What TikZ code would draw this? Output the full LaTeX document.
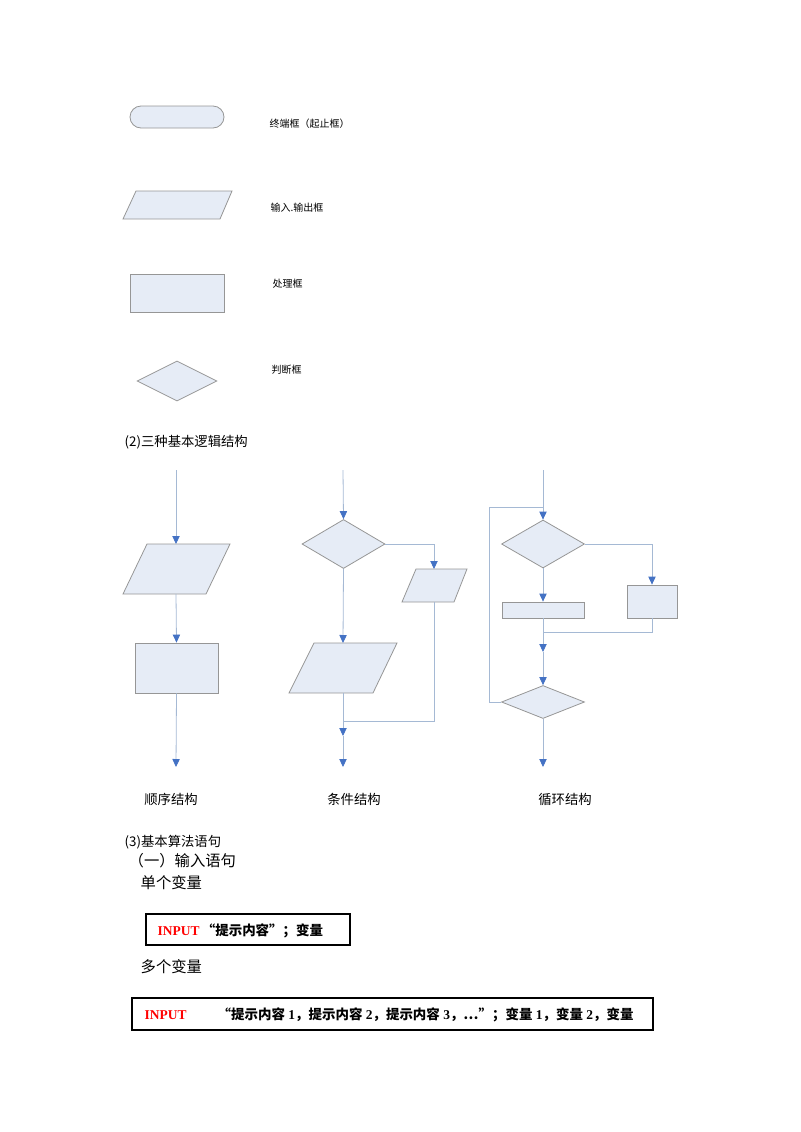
\documentclass[tikz,border=0pt]{standalone}
\usepackage{fontspec}
\setmainfont{Noto Sans CJK SC}
\newfontfamily\lat{Liberation Serif}
\usetikzlibrary{shapes.geometric,arrows.meta}
\definecolor{fillc}{RGB}{230,236,246}
\definecolor{edgec}{RGB}{150,150,150}
\definecolor{linec}{RGB}{165,185,212}
\definecolor{arrc}{RGB}{68,114,196}
\def\px{*0.75pt}
\begin{document}
\begin{tikzpicture}[x=0.75pt,y=-0.75pt,
  shp/.style={draw=edgec,fill=fillc,line width=0.6pt},
  rectshp/.style={shp,rectangle,inner sep=0pt},
  dia/.style={shp,diamond,inner sep=0pt},
  conn/.style={draw=linec,line width=0.6pt},
  arr/.style={conn,-{Triangle[length=6pt,width=5.5pt,color=arrc]}},
  small/.style={anchor=west,font=\fontsize{7.5}{9}\selectfont},
  mid/.style={font=\fontsize{10}{12}\selectfont},
  big/.style={anchor=west,font=\fontsize{11.5}{14}\selectfont},
  codebox/.style={draw=black,line width=1.1pt,rectangle,inner sep=0pt},
  codetxt/.style={anchor=west,font=\fontsize{10.1}{12}\selectfont\bfseries}]
\path[use as bounding box] (0,0) rectangle (800,1132);

% ---------- legend ----------
\node[shp,rectangle,rounded corners=11\px,minimum width=94\px,minimum height=22\px] (term) at (177,117) {};
\node[small] (termt) at (265,124) {终端框（起止框）};
\path[shp] (136,191) -- (232,191) -- (220,219) -- (123,219) -- cycle;
\node[small] (iot) at (266,208) {输入.输出框};
\node[rectshp,minimum width=94\px,minimum height=38\px] (proc) at (177,293) {};
\node[small] (proct) at (268,284) {处理框};
\node[dia,minimum width=80\px,minimum height=40\px] (decl) at (177,381) {};
\node[small] (declt) at (267,370) {判断框};

\node[anchor=west,mid] (t2) at (120,442) {(2)三种基本逻辑结构};

% ---------- sequence ----------
\coordinate (s0) at (176,470);
\path[shp] (147,544) -- (230,544) -- (206,594) -- (123,594) -- cycle;
\coordinate (sp1t) at (176,544);
\coordinate (sp1b) at (176,594);
\node[rectshp,minimum width=83\px,minimum height=50\px] (srect) at (176.5,668) {};
\coordinate (send) at (176,767);
\draw[arr] (s0) -- (sp1t);
\draw[arr] (sp1b) -- (srect.north);
\draw[arr] (srect.south) -- (send);

% ---------- condition ----------
\coordinate (c0) at (343,470);
\node[dia,minimum width=83\px,minimum height=49\px] (cd) at (343.5,544) {};
\path[shp] (416,569) -- (467,569) -- (454,602) -- (402,602) -- cycle;
\coordinate (cp2t) at (434,569);
\coordinate (cp2b) at (434,602);
\path[shp] (314,643) -- (397,643) -- (373,693) -- (289,693) -- cycle;
\coordinate (cp3t) at (343,643);
\coordinate (cp3b) at (343,693);
\coordinate (cj) at (343,721);
\coordinate (cm) at (343,736);
\coordinate (cend) at (343,767);
\draw[arr] (c0) -- (cd.north);
\draw[arr] (cd.east) -| (cp2t);
\draw[conn] (cp2b) |- (cj);
\draw[arr] (cd.south) -- (cp3t);
\draw[arr] (cp3b) -- (cm);
\draw[arr] (cm) -- (cend);

% ---------- loop ----------
\coordinate (l0) at (543,470);
\coordinate (lj) at (543,507);
\coordinate (lback) at (489,507);
\node[dia,minimum width=83\px,minimum height=48\px] (ld1) at (543,544) {};
\node[rectshp,minimum width=82\px,minimum height=16\px] (lw) at (543,610) {};
\node[rectshp,minimum width=50\px,minimum height=33\px] (lr) at (652,601.5) {};
\coordinate (lj2) at (543,632);
\coordinate (lm) at (543,652);
\node[dia,minimum width=83\px,minimum height=33\px] (ld2) at (543,702) {};
\coordinate (lend) at (543,767);
\draw[arr] (l0) -- (ld1.north);
\draw[conn] (ld2.west) -| (lback) -- (lj);
\draw[arr] (ld1.east) -| (lr.north);
\draw[arr] (ld1.south) -- (lw.north);
\draw[conn] (lr.south) |- (lj2);
\draw[arr] (lw.south) -- (lm);
\draw[arr] (lm) -- (ld2.north);
\draw[arr] (ld2.south) -- (lend);

\node[mid] (seqt) at (171,799) {顺序结构};
\node[mid] (cndt) at (354,799) {条件结构};
\node[mid] (lopt) at (565,799) {循环结构};

% ---------- statements ----------
\node[anchor=west,mid] (t3) at (120,842) {(3)基本算法语句};
\node[big] (t31) at (124,861) {（一）输入语句};
\node[big] (single) at (136,883) {单个变量};
\node[codebox,minimum width=204\px,minimum height=31\px] (b1) at (248,929.5) {};
\node[codetxt] (b1t) at (153,931) {{\lat\color{red}INPUT}\,“提示内容”；变量};
\node[big] (multi) at (136,967) {多个变量};
\node[codebox,minimum width=521\px,minimum height=32\px] (b2) at (392.5,1014) {};
\node[codetxt] (b2a) at (140,1015) {\lat\color{red}INPUT};
\node[codetxt] (b2b) at (213,1015) {“提示内容{\lat\ 1}，提示内容{\lat\ 2}，提示内容{\lat\ 3}，…”；变量{\lat\ 1}，变量{\lat\ 2}，变量};
\end{tikzpicture}
\end{document}
